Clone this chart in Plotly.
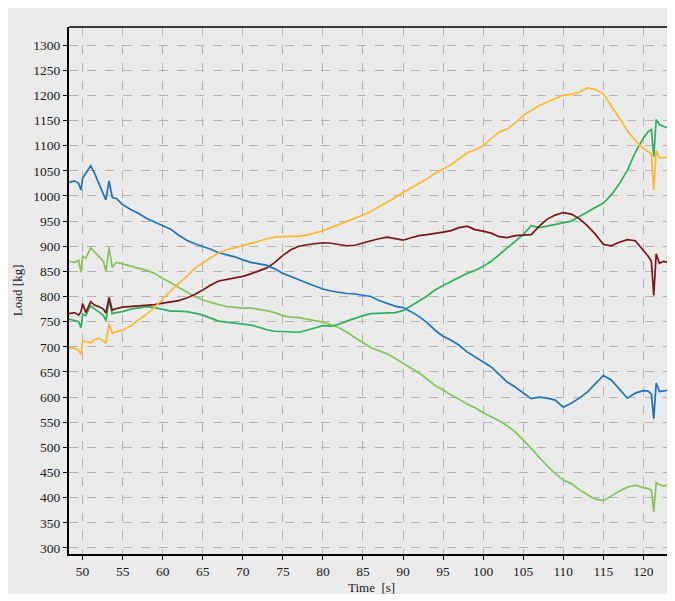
import plotly.graph_objects as go

time_s = [48.3, 49.0, 49.5, 49.8, 50.0, 50.4, 51.0, 51.5, 52.0, 52.6, 52.9, 53.3, 53.7, 54.2] \
    + list(range(55, 121)) + [120.6, 121.0, 121.3, 121.6, 122.0, 122.5, 123.0, 123.7]

blue = [1027, 1030, 1025, 1012, 1035, 1045, 1060, 1045, 1025, 1005, 992, 1030, 997, 995,
        983, 973, 965, 955, 948, 942, 934, 922, 912, 905,
        900, 894, 887, 883, 879, 873, 868, 865, 862, 855,
        846, 840, 833, 827, 821, 815, 811, 808, 806, 805,
        803, 800, 792, 786, 781, 778, 770, 760, 748, 733,
        721, 713, 703, 690, 680, 670, 660, 645, 630, 620,
        608, 597, 600, 598, 594, 580, 588, 598, 610, 626,
        643, 634, 615, 598, 608, 613,
        612, 606, 557, 628, 611, 612, 613, 615]

light_green = [870, 868, 872, 848, 880, 876, 897, 888, 880, 870, 850, 898, 858, 868,
               865, 860, 856, 852, 846, 836, 828, 818, 809, 800,
               793, 788, 784, 780, 778, 777, 777, 775, 772, 768,
               762, 759, 758, 755, 752, 749, 744, 738, 729, 718,
               708, 698, 692, 686, 677, 667, 658, 648, 636, 623,
               614, 604, 596, 586, 579, 569, 561, 553, 543, 531,
               515, 497, 479, 463, 448, 435, 428, 416, 406, 397,
               394, 404, 413, 421, 425, 420,
               418, 415, 372, 430, 426, 423, 425, 424]

dark_red = [766, 768, 763, 770, 786, 768, 790, 783, 780, 775, 767, 798, 773, 776,
            779, 780, 781, 782, 784, 787, 790, 792, 797, 804,
            813, 823, 831, 834, 836, 840, 845, 851, 857, 868,
            882, 893, 900, 903, 905, 907, 906, 904, 901, 902,
            907, 911, 915, 918, 915, 912, 917, 921, 923, 925,
            928, 931, 937, 940, 933, 930, 926, 919, 917, 921,
            922, 923, 940, 954, 962, 967, 964, 955, 941, 924,
            904, 901, 908, 913, 911, 893,
            880, 870, 802, 885, 866, 870, 868, 869]

green = [755, 752, 750, 738, 765, 762, 782, 775, 770, 762, 752, 792, 766, 768,
         770, 775, 778, 780, 778, 774, 771, 771, 770, 767,
         763, 757, 751, 749, 747, 745, 743, 739, 734, 731,
         730, 730, 729, 733, 738, 742, 741, 745, 751, 757,
         762, 766, 767, 767, 768, 772, 781, 791, 801, 813,
         822, 830, 838, 846, 852, 860, 870, 883, 897, 910,
         923, 941, 937, 940, 943, 946, 950, 959, 968, 977,
         986, 1002, 1024, 1051, 1087, 1115,
         1128, 1132, 1078, 1152, 1142, 1138, 1136, 1133]

yellow = [698, 697, 693, 685, 712, 710, 708, 714, 717, 712, 707, 746, 727, 730,
          733, 742, 753, 765, 779, 796, 811, 826, 840, 856,
          867, 877, 887, 893, 897, 901, 905, 910, 915, 918,
          919, 919, 920, 922, 926, 931, 937, 943, 950, 956,
          962, 969, 978, 988, 997, 1007, 1016, 1024, 1034, 1045,
          1053, 1062, 1074, 1086, 1092, 1100, 1114, 1127, 1133, 1145,
          1160, 1170, 1180, 1187, 1194, 1200, 1202, 1206, 1215, 1212,
          1203, 1180, 1155, 1130, 1110, 1094,
          1088, 1084, 1012, 1090, 1076, 1076, 1078, 1079]

x_ticks = list(range(50, 121, 5))
y_ticks = list(range(300, 1301, 50))

series = [
    ("Light green", light_green, "#84c55c"),
    ("Green", green, "#2fb05b"),
    ("Dark red", dark_red, "#7a1619"),
    ("Blue", blue, "#1f73bd"),
    ("Yellow", yellow, "#fcb92f"),
]

fig = go.Figure()
for name, vals, col in series:
    fig.add_trace(go.Scatter(x=time_s, y=vals, mode="lines", name=name,
                             line=dict(color=col, width=1.7)))

font_serif = "Liberation Serif, Times New Roman, serif"
fig.update_layout(
    width=667, height=593,
    margin=dict(l=61, r=2, t=19, b=47),
    paper_bgcolor="white",
    plot_bgcolor="#ebebeb",
    showlegend=False,
    font=dict(family=font_serif, size=14, color="#1a1a1a"),
    xaxis=dict(range=[48.3, 123.7], tickvals=x_ticks, ticktext=[str(v) for v in x_ticks],
               tickfont=dict(size=13.5),
               showgrid=True, gridcolor="#b4b4b4", griddash="dash", gridwidth=1,
               showline=True, linecolor="black", linewidth=2,
               ticks="outside", ticklen=4, tickcolor="black", zeroline=False),
    yaxis=dict(range=[288, 1336], tickvals=y_ticks, ticktext=[str(v) for v in y_ticks],
               tickfont=dict(size=13.5),
               showgrid=True, gridcolor="#b4b4b4", griddash="dash", gridwidth=1,
               showline=True, linecolor="black", linewidth=2,
               ticks="outside", ticklen=4, tickcolor="black", zeroline=False),
    shapes=[
        dict(type="rect", xref="paper", yref="paper", x0=-0.2, x1=1.05, y0=-0.076, y1=1.1,
             fillcolor="#ebebeb", line=dict(width=0), layer="below"),
        dict(type="line", xref="paper", yref="paper", x0=0, x1=1, y0=1, y1=1,
             line=dict(color="black", width=1.5)),
        dict(type="line", xref="paper", yref="paper", x0=1, x1=1, y0=0, y1=1,
             line=dict(color="#707070", width=2)),
    ],
    annotations=[
        dict(text="Time  [s]", xref="paper", yref="paper", x=0.5, y=-0.064,
             xanchor="center", yanchor="middle",
             showarrow=False, font=dict(family=font_serif, size=13, color="#1a1a1a")),
        dict(text="Load [kg]", xref="paper", yref="paper", x=-0.085, y=0.5, textangle=-90,
             xanchor="center", yanchor="middle",
             showarrow=False, font=dict(family=font_serif, size=13, color="#1a1a1a")),
    ],
)

fig.write_html("out.html")
